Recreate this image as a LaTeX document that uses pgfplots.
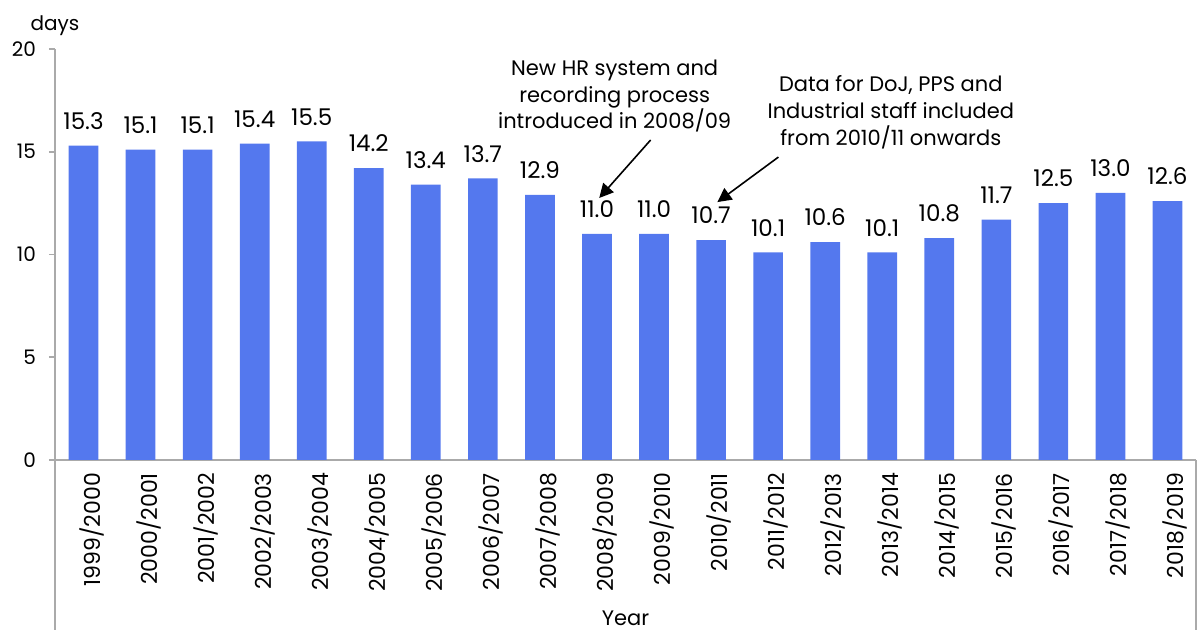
\documentclass[border=0pt]{standalone}
\usepackage{pgfplots}
\pgfplotsset{compat=1.18}
\usepackage{fontspec}
\setmainfont{Poppins}
\usetikzlibrary{arrows.meta}
\definecolor{barblue}{RGB}{84,120,238}
\definecolor{axgray}{RGB}{170,170,170}
\pgfplotstableread{
idx val label
0 15.3 1999/2000
1 15.1 2000/2001
2 15.1 2001/2002
3 15.4 2002/2003
4 15.5 2003/2004
5 14.2 2004/2005
6 13.4 2005/2006
7 13.7 2006/2007
8 12.9 2007/2008
9 11.0 2008/2009
10 11.0 2009/2010
11 10.7 2010/2011
12 10.1 2011/2012
13 10.6 2012/2013
14 10.1 2013/2014
15 10.8 2014/2015
16 11.7 2015/2016
17 12.5 2016/2017
18 13.0 2017/2018
19 12.6 2018/2019
}\datatable
\begin{document}
\begin{tikzpicture}
\useasboundingbox (0,0) rectangle (598.5pt,315pt);
\begin{axis}[
  at={(27.5pt,85pt)}, anchor=south west,
  width=570.5pt, height=205.5pt, scale only axis,
  xmin=-0.5, xmax=19.5, ymin=0, ymax=20,
  axis lines*=left,
  axis line style={axgray, line width=0.8pt},
  ytick={0,5,10,15,20},
  tick align=outside,
  major tick length=3pt,
  ytick style={axgray, line width=0.8pt},
  xtick=data,
  xticklabels from table={\datatable}{label},
  x tick style={draw=none},
  tick label style={text=black},
  yticklabel style={xshift=-3pt, font=\fontsize{10}{12}\selectfont},
  xticklabel style={rotate=90, anchor=east, yshift=-4pt, font=\fontsize{11}{12}\selectfont},
  /pgf/number format/assume math mode=true,
  ylabel={days}, ylabel style={rotate=-90, at={(axis description cs:0,1)}, anchor=south, yshift=3pt, font=\fontsize{10}{12}\selectfont},
  xlabel={Year}, xlabel style={at={(axis description cs:0.5,0)}, anchor=center, yshift=-79pt, font=\fontsize{10.5}{12}\selectfont},
  clip=false,
  nodes near coords,
  nodes near coords style={font=\fontsize{11.5}{12}\selectfont, yshift=4.5pt, /pgf/number format/fixed, /pgf/number format/fixed zerofill, /pgf/number format/precision=1, /pgf/number format/assume math mode=true},
]
\addplot[ybar, bar width=0.52, fill=barblue, draw=none] table[x=idx, y=val] {\datatable};
\draw[axgray, line width=0.8pt] (rel axis cs:0,0) -- ([yshift=-85pt] rel axis cs:0,0);
\draw[axgray, line width=0.8pt] (rel axis cs:1,0) -- ([yshift=-85pt] rel axis cs:1,0);
\node[align=center, font=\fontsize{10.5}{13.2}\selectfont] at (axis cs:9.31,17.71) {New HR system and\\recording process\\introduced in 2008/09};
\node[align=center, font=\fontsize{10.5}{13.5}\selectfont] at (axis cs:14.15,16.9) {Data for DoJ, PPS and\\Industrial staff included\\from 2010/11 onwards};
\draw[line width=0.8pt, -{Triangle[width=7pt,length=7pt]}] (axis cs:9.94,15.57) -- (axis cs:9.04,12.75);
\draw[line width=0.8pt, -{Triangle[width=7pt,length=7pt]}] (axis cs:12.18,14.74) -- (axis cs:11.11,12.55);
\end{axis}
\end{tikzpicture}
\end{document}
